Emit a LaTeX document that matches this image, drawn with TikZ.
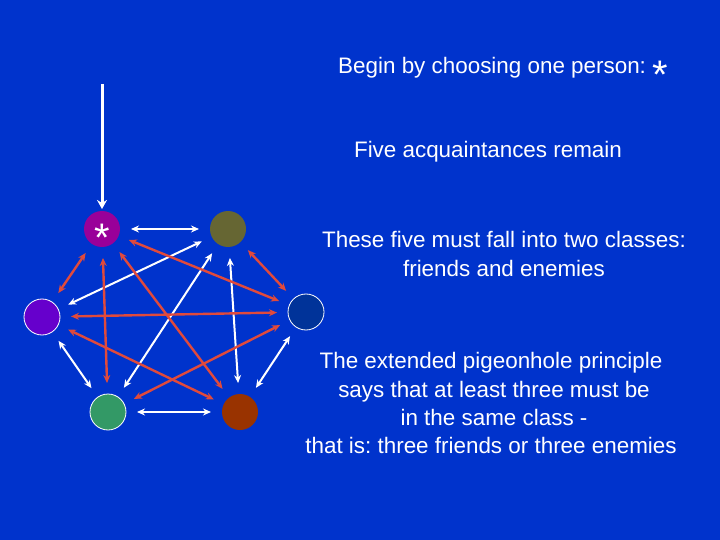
\documentclass[tikz,border=0pt]{standalone}
\usepackage{fontspec}
\setmainfont{Liberation Sans}
\usetikzlibrary{arrows.meta}
\definecolor{bg}{HTML}{0033CC}
\definecolor{cstar}{HTML}{990099}
\definecolor{colive}{HTML}{666633}
\definecolor{cviolet}{HTML}{6600CC}
\definecolor{cdblue}{HTML}{003399}
\definecolor{cgreen}{HTML}{339966}
\definecolor{cbrown}{HTML}{993300}
\definecolor{cred}{HTML}{E04A3C}
\newcommand\mystar{{\fontsize{40}{40}\selectfont *}}
\frenchspacing
\tikzset{
  person/.style={circle, minimum size=36bp, inner sep=0pt, outer sep=0pt},
  rimmed/.style={draw=white, line width=0.8bp},
  tip/.tip={Stealth[length=8bp,width=7bp]},
  friend/.style={draw=white, line width=2bp, {tip}-{tip}, shorten <=11bp, shorten >=11bp},
  enemy/.style={draw=cred, line width=2.4bp, {tip}-{tip}, shorten <=11bp, shorten >=11bp},
  txt/.style={text=white, anchor=base, inner sep=0pt, font=\fontsize{22.5}{27}\selectfont}
}
\begin{document}
\begin{tikzpicture}[x=1bp,y=-1bp]
\fill[bg] (0,0) rectangle (720,540);
\useasboundingbox (0,0) rectangle (720,540);
% persons
\node[person, fill=cstar] (star) at (102,229) {};
\node[person, fill=colive] (olive) at (228,229) {};
\node[person, fill=cviolet, rimmed] (violet) at (42,317) {};
\node[person, fill=cdblue, rimmed] (dblue) at (306,312) {};
\node[person, fill=cgreen, rimmed] (green) at (108,412) {};
\node[person, fill=cbrown] (brown) at (240,412) {};
\node[text=white, inner sep=0pt, yshift=-8.5bp] (starmark) at (star.center) {\mystar};
% pointer
\coordinate (top) at (102,84);
\draw[white, line width=3bp, -{Stealth[length=9bp,width=10bp]}, shorten >=2bp] (top) -- (star);
% friends
\draw[friend] (star) -- (olive);
\draw[friend] (olive) -- (violet);
\draw[friend] (olive) -- (green);
\draw[friend] (olive) -- (brown);
\draw[friend] (violet) -- (green);
\draw[friend] (green) -- (brown);
\draw[friend] (brown) -- (dblue);
% enemies
\draw[enemy] (star) -- (violet);
\draw[enemy] (star) -- (dblue);
\draw[enemy] (star) -- (green);
\draw[enemy] (star) -- (brown);
\draw[enemy] (olive) -- (dblue);
\draw[enemy] (violet) -- (dblue);
\draw[enemy] (violet) -- (brown);
\draw[enemy] (dblue) -- (green);
% texts
\node[txt] (t1) at (503,74) {Begin by choosing one person: \raisebox{-15bp}{\mystar}};
\node[txt] (t2) at (488,158) {Five acquaintances remain};
\node[txt] (t3) at (504,248) {These five must fall into two classes:};
\node[txt] (t4) at (504,277) {friends and enemies};
\node[txt] (t5) at (491,368) {The extended pigeonhole principle};
\node[txt] (t6) at (494,397) {says that at least three must be};
\node[txt] (t7) at (494,425) {in the same class -};
\node[txt] (t8) at (491,453) {that is: three friends or three enemies};
\end{tikzpicture}
\end{document}
